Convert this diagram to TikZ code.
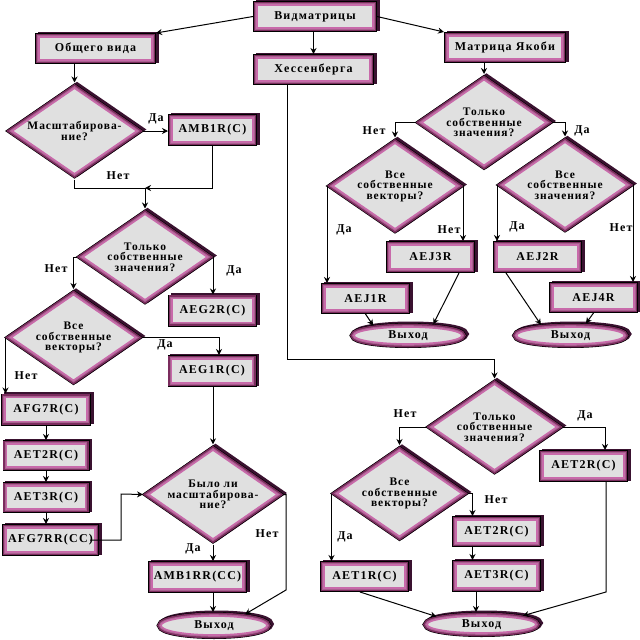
\documentclass[tikz,border=0pt]{standalone}
\usepackage{fontspec}
\setmainfont{Liberation Serif}
\usetikzlibrary{calc, positioning}
\usetikzlibrary{shapes.geometric}
\usetikzlibrary{arrows.meta}

\definecolor{frameplum}{HTML}{7B2C5E}
\definecolor{framemauve}{HTML}{A8628F}
\definecolor{framepink}{HTML}{C86AAA}
\definecolor{boxgray}{HTML}{E0E0E0}
\definecolor{shadowplum}{HTML}{3A1230}

\newcommand{\boxfont}{\fontsize{12}{12}\selectfont\bfseries\addfontfeature{LetterSpace=10}}
\newcommand{\decfont}{\fontsize{11.5}{10.5}\selectfont\bfseries\addfontfeature{LetterSpace=8}}

\begin{document}
\begin{tikzpicture}[x=1pt, y=-1pt,
  framed/.style={
    preaction={draw=shadowplum, line width=8pt, transform canvas={xshift=2.5pt, yshift=1.5pt}},
    preaction={draw=black, line width=8pt},
    preaction={draw=frameplum, line width=6.8pt},
    preaction={draw=framemauve, line width=3.6pt},
    draw=framepink, line width=1.6pt, fill=boxgray,
    outer sep=4pt, inner sep=0pt, text=black},
  procbox/.style={framed, rectangle, minimum width=81pt, minimum height=24pt, font=\boxfont},
  decision/.style={framed, diamond, aspect=1.43, minimum width=128pt, minimum height=89pt,
    align=center, font=\decfont},
  terminal/.style={framed, ellipse, minimum width=108pt, minimum height=17pt, font=\boxfont},
  branch/.style={font=\boxfont, inner sep=0pt},
  flow/.style={-{Stealth[length=6pt, width=6pt]}, line width=1pt},
  link/.style={line width=1pt}
]
\useasboundingbox (0,0) rectangle (640,640);

\node[procbox, minimum width=116pt, minimum height=23pt] (vid) at (315,16.5) {Видматрицы};
\node[procbox, minimum width=113pt, minimum height=23pt] (obsh) at (95.5,48.5) {Общего вида};
\node[procbox, minimum width=113pt, minimum height=23pt] (hess) at (313.5,69.5) {Хессенберга};
\node[procbox, minimum width=114pt, minimum height=23pt] (yak) at (505,47.5) {Матрица Якоби};

\node[decision] (D1) at (74.5,131) {Масштабирова-\\ние?};
\node[procbox] (amb1r) at (212.5,130) {AMB1R(C)};
\node[decision] (D2) at (145,257) {Только\\собственные\\значения?};
\node[procbox] (aeg2r) at (212.5,310.5) {AEG2R(C)};
\node[decision] (D3) at (73.5,337.5) {Все\\собственные\\векторы?};
\node[procbox] (aeg1r) at (212,371) {AEG1R(C)};
\node[procbox, minimum width=82pt] (afg7r) at (46,409.5) {AFG7R(C)};
\node[procbox, minimum width=79pt, minimum height=23pt] (aet2rL) at (46,455.5) {AET2R(C)};
\node[procbox, minimum width=79pt, minimum height=23pt] (aet3rL) at (46,497.5) {AET3R(C)};
\node[procbox, minimum width=89pt] (afg7rr) at (50.5,540) {AFG7RR(CC)};
\node[decision] (D4) at (213,494.5) {Было ли\\масштабирова-\\ние?};
\node[procbox, minimum width=91pt] (amb1rr) at (197.5,577) {AMB1RR(CC)};
\node[terminal, minimum width=106pt, minimum height=19pt] (exitL) at (214,625.5) {Выход};

\node[decision] (R1) at (484,122.5) {Только\\собственные\\значения?};
\node[decision] (R2a) at (395,186) {Все\\собственные\\векторы?};
\node[decision] (R2b) at (565,185) {Все\\собственные\\значения?};
\node[procbox] (aej3r) at (430.5,257) {AEJ3R};
\node[procbox] (aej2r) at (537.5,257) {AEJ2R};
\node[procbox, minimum height=23pt] (aej1r) at (365.5,298.5) {AEJ1R};
\node[procbox, minimum height=23pt] (aej4r) at (593.5,297.5) {AEJ4R};
\node[terminal] (exitR1) at (408,335.5) {Выход};
\node[terminal] (exitR2) at (570.5,335.5) {Выход};

\node[decision] (R3) at (494.5,427) {Только\\собственные\\значения?};
\node[procbox] (aet2rR) at (583.5,466) {AET2R(C)};
\node[decision] (R4) at (399.5,493.5) {Все\\собственные\\векторы?};
\node[procbox, minimum height=23pt] (aet2rM) at (496.5,531.5) {AET2R(C)};
\node[procbox] (aet3rM) at (496.5,576) {AET3R(C)};
\node[procbox, minimum height=23pt] (aet1r) at (364.5,576.5) {AET1R(C)};
\node[terminal, minimum width=109pt] (exitR3) at (481.5,624.5) {Выход};

\coordinate (j1) at (145,188);
\coordinate (k1) at (121,494);
\coordinate (k2) at (286,590);
\coordinate (k3) at (287,359);
\coordinate (k4) at (606,592);

\draw[flow] (vid.west) -- (obsh.north east);
\draw[flow] (hess.north |- vid.south) -- (hess.north);
\draw[flow] (vid.east) -- (yak.north west);

\draw[flow] (D1.north |- obsh.south) -- (D1.north);
\draw[flow] (D1.east) -- (D1.east -| amb1r.west);
\draw[link] (D1.south) |- (j1);
\draw[flow] (amb1r.south) |- (j1);
\draw[flow] (j1) -- (D2.north);
\draw[flow] (D2.west) -| (D3.north);
\draw[flow] (D2.east) -- (D2.east |- aeg2r.north);
\draw[flow] (D3.east) -| ([xshift=7pt]aeg1r.north);
\draw[flow] (D3.west) -- (D3.west |- afg7r.north);
\foreach \a/\b in {afg7r/aet2rL, aet2rL/aet3rL, aet3rL/afg7rr}
  \draw[flow] (\a.south) -- (\a.south |- \b.north);
\draw[flow] ([xshift=-9pt]afg7rr.east) -| (k1) -- (D4.west);
\draw[flow] (D4.north |- aeg1r.south) -- (D4.north);
\draw[flow] (D4.south) -- (D4.south |- amb1rr.north);
\draw[flow] (D4.south |- amb1rr.south) -- (D4.south |- exitL.north);
\draw[flow] (D4.east) -| (k2) -- (exitL.20);

\draw[flow] (hess.south -| k3) -- (k3) -| (R3.north);
\draw[flow] (yak.south -| R1.north) -- (R1.north);
\draw[flow] (R1.west) -| (R2a.north);
\draw[flow] (R1.east) -| (R2b.north);
\draw[flow] (R2a.west) -- (R2a.west |- aej1r.north);
\draw[flow] (R2a.east) -- (R2a.east |- aej3r.north);
\draw[flow] (R2b.west) -- (R2b.west |- aej2r.north);
\draw[flow] (R2b.east) -- (R2b.east |- aej4r.north);
\draw[flow] (aej1r.south) -- (exitR1.164);
\draw[flow] ([xshift=28.5pt]aej3r.south) -- (exitR1.24);
\draw[flow] ([xshift=-31.5pt]aej2r.south) -- (exitR2.160);
\draw[flow] (aej4r.south) -- (exitR2.38);

\draw[flow] (R3.west) -| (R4.north);
\draw[flow] (R3.east) -| ([xshift=21.5pt]aet2rR.north);
\draw[flow] (R4.west) -- (R4.west |- aet1r.north);
\draw[flow] (R4.east) -| ([xshift=-24pt]aet2rM.north);
\draw[flow] ([xshift=-24pt]aet2rM.south) -- ([xshift=-24pt]aet3rM.north);
\draw[flow] ([xshift=-20.5pt]aet3rM.south) -- ([xshift=-20.5pt]aet3rM.south |- exitR3.north);
\draw[flow] ([xshift=-4.5pt]aet1r.south) -- (exitR3.170);
\draw[flow] ([xshift=22.5pt]aet2rR.south) -- (k4) -- (exitR3.12);

\node[branch] (yes1) at (156,119) {Да};
\node[branch] (no1) at (118,176) {Нет};
\node[branch] (no2) at (56,269) {Нет};
\node[branch] (yes2) at (234,271) {Да};
\node[branch] (yes3) at (165,345) {Да};
\node[branch] (no3) at (26,376) {Нет};
\node[branch] (no4) at (267,534) {Нет};
\node[branch] (yes4) at (193,549) {Да};
\node[branch] (no5) at (374,131) {Нет};
\node[branch] (yes5) at (582,131) {Да};
\node[branch] (yes6) at (344,230) {Да};
\node[branch] (no6) at (449,230) {Нет};
\node[branch] (yes7) at (517,227) {Да};
\node[branch] (no7) at (621,228) {Нет};
\node[branch] (no8) at (405,414) {Нет};
\node[branch] (yes8) at (585,416) {Да};
\node[branch] (no9) at (496,500) {Нет};
\node[branch] (yes9) at (345,537) {Да};
\end{tikzpicture}
\end{document}
